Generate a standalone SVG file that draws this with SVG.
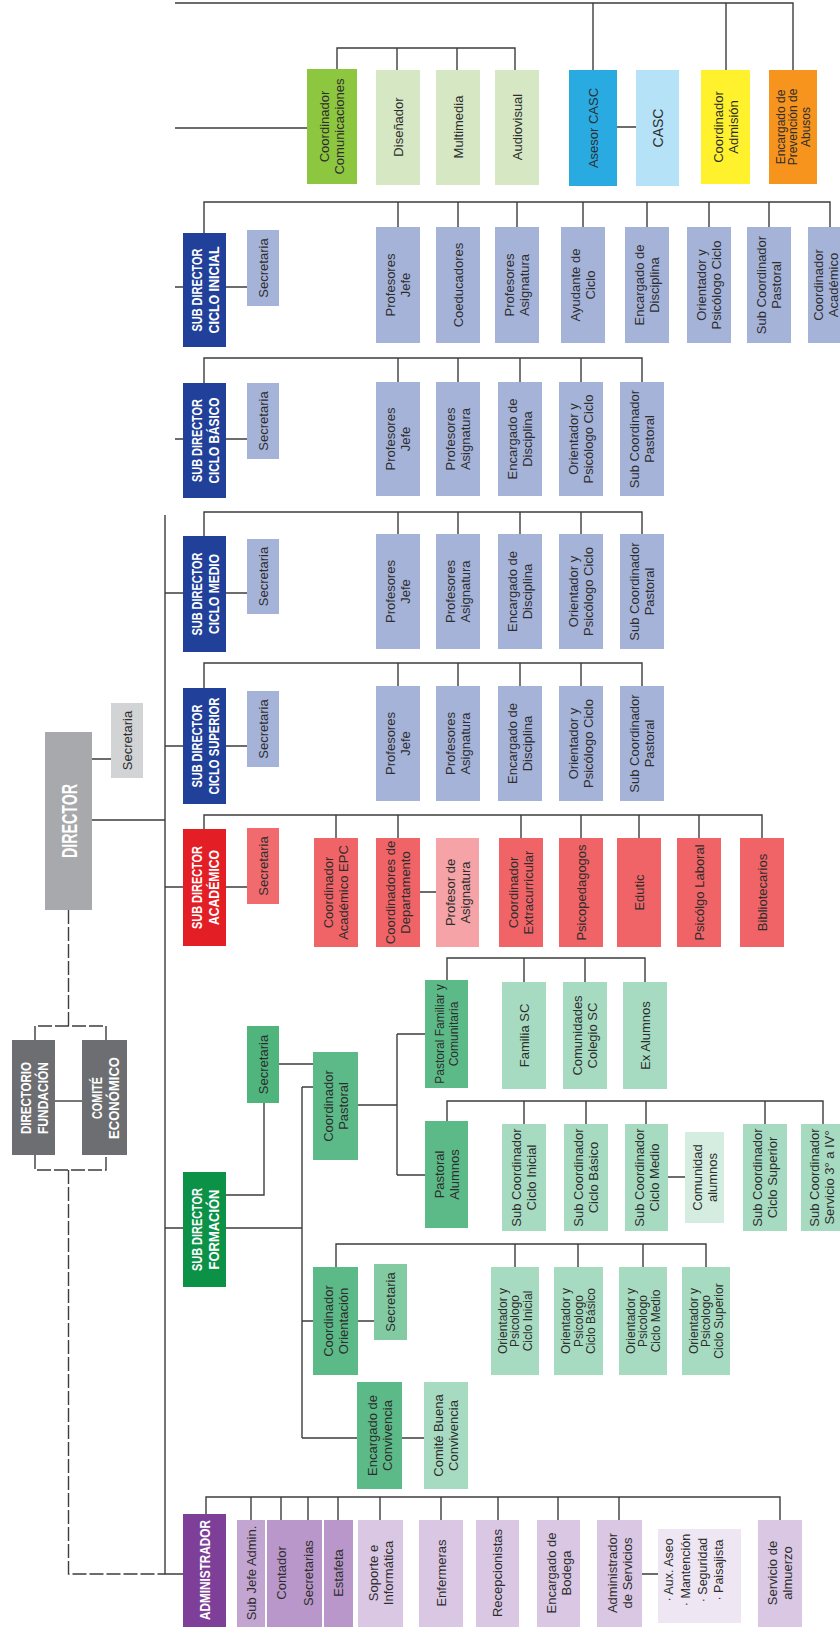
<svg xmlns="http://www.w3.org/2000/svg" width="840" height="1627" viewBox="0 0 840 1627">
<style>
.l{fill:none;stroke:#3d3d3d;stroke-width:1.4}
.d{fill:none;stroke:#3d3d3d;stroke-width:1.4;stroke-dasharray:14 3}
text{font-family:"Liberation Sans",Arial,sans-serif;text-anchor:middle;fill:#2d2d2d}
.t{font-size:13px}
.s{font-size:12px}
.h{font-size:15px;font-weight:bold;fill:#fff}
.bl{fill:#21409a}.pw{fill:#a6b3d9}
.rd{fill:#e31e25}.rs{fill:#f06467}.rp{fill:#f5a3a7}
.gd{fill:#0b9247}.gm{fill:#5cba88}.gl{fill:#a7dbc1}.gx{fill:#d4ede0}
.pu{fill:#7d3f98}.p1{fill:#c3a5d2}.p2{fill:#b997ca}.p3{fill:#d9c7e3}.p4{fill:#efe6f4}
.gy{fill:#a7a9ac}.gy2{fill:#d1d3d4}.gy3{fill:#6d6e71}
.cg{fill:#8dc63f}.cl{fill:#d6e7c4}
</style>
<rect width="840" height="1627" fill="#fff"/>
<g id="connectors">
<path class="l" d="M175,3 H793 V70 M593,3 V70 M726,3 V70 M617,127 H636 M175,128 H307 M337,69 V48 H515 V70 M397,48 V70 M457,48 V70"/>
<path class="l" d="M175,287 H183 M226,287 H247 M204,233 V202 H830 V227 M398,202 V227 M458,202 V227 M517,202 V227 M583,202 V227 M647,202 V227 M709,202 V227 M769,202 V227"/>
<path class="l" d="M175,439 H183 M226,439 H247 M204,383 V358 H642 V382 M398,358 V382 M458,358 V382 M520,358 V382 M581,358 V382"/>
<path class="l" d="M165,515 V1574 H183 M165,593 H183 M226,593 H247 M204,536 V512 H642 V534 M398,512 V534 M458,512 V534 M520,512 V534 M581,512 V534"/>
<path class="l" d="M165,746 H183 M226,746 H247 M204,688 V663 H642 V686 M398,663 V686 M458,663 V686 M520,663 V686 M581,663 V686"/>
<path class="l" d="M92,820 H165 M92,759 H111"/>
<path class="l" d="M165,887 H183 M226,887 H247 M204,829 V815 H762 V838 M336,815 V838 M398,815 V838 M521,815 V838 M581,815 V838 M639,815 V838 M699,815 V838 M420,892 H436"/>
<path class="l" d="M165,1228 H183 M226,1228 H302 M226,1195 H264 V1103 M302,1087 V1438 M302,1087 H313 M279,1064 H313 M358,1105 H397 M397,1034 V1175 M397,1034 H425 M397,1175 H425"/>
<path class="l" d="M447,980 V958 H645 V982 M524,958 V982 M585,958 V982"/>
<path class="l" d="M447,1121 V1101 H823 V1124 M524,1101 V1124 M586,1101 V1124 M646,1101 V1124 M765,1101 V1124 M668,1177 H685"/>
<path class="l" d="M302,1321 H313 M358,1321 H374 M336,1267 V1244 H706 V1267 M515,1244 V1267 M578,1244 V1267 M643,1244 V1267 M302,1438 H357 M402,1438 H424"/>
<path class="l" d="M206,1514 V1497 H780 V1520 M251,1497 V1520 M281,1497 V1520 M308,1497 V1520 M338,1497 V1520 M380,1497 V1520 M441,1497 V1520 M498,1497 V1520 M558,1497 V1520 M619,1497 V1520 M642,1574 H658"/>
<path class="d" d="M68.5,910 V1026 M35,1040 V1026 H106 V1040 M35,1155 V1170 H106 V1155 M68.5,1170 V1574 H165"/>
<path class="l" d="M55,1101 H82"/>
</g>

<g id="n-coord-com"><rect class="cg" x="307" y="69" width="50" height="115"/><text class="t" transform="translate(332,126.5) rotate(-90)"><tspan x="0" y="-3">Coordinador</tspan><tspan x="0" y="12">Comunicaciones</tspan></text></g>
<g id="n-disenador"><rect class="cl" x="376" y="70" width="44" height="115"/><text class="t" transform="translate(398,127) rotate(-90)"><tspan x="0" y="4.5">Diseñador</tspan></text></g>
<g id="n-multimedia"><rect class="cl" x="436" y="70" width="44" height="115"/><text class="t" transform="translate(458,127) rotate(-90)"><tspan x="0" y="4.5">Multimedia</tspan></text></g>
<g id="n-audiovisual"><rect class="cl" x="495" y="70" width="44" height="115"/><text class="t" transform="translate(517,127) rotate(-90)"><tspan x="0" y="4.5">Audiovisual</tspan></text></g>
<g id="n-asesor-casc"><rect fill="#29abe2" x="569" y="70" width="48" height="116"/><text class="t" transform="translate(593,128) rotate(-90)"><tspan x="0" y="4.5">Asesor CASC</tspan></text></g>
<g id="n-casc"><rect fill="#b5e2f7" x="636" y="70" width="43" height="116"/><text class="t" transform="translate(657.5,128) rotate(-90)" style="font-size:14px"><tspan x="0" y="5">CASC</tspan></text></g>
<g id="n-admision"><rect fill="#fff22d" x="701" y="70" width="49" height="114"/><text class="t" transform="translate(725.5,127) rotate(-90)"><tspan x="0" y="-3">Coordinador</tspan><tspan x="0" y="12">Admisión</tspan></text></g>
<g id="n-prevencion"><rect fill="#f7941d" x="769" y="70" width="48" height="114"/><text class="s" transform="translate(793,127) rotate(-90)"><tspan x="0" y="-8.3">Encargado de</tspan><tspan x="0" y="4.2">Prevención de</tspan><tspan x="0" y="16.7">Abusos</tspan></text></g>

<g id="n-sd-inicial"><rect class="bl" x="183" y="233" width="43" height="114"/><text class="h" transform="translate(204.5,290) rotate(-90)" x="0" y="-3" textLength="83" lengthAdjust="spacingAndGlyphs">SUB DIRECTOR</text><text class="h" transform="translate(204.5,290) rotate(-90)" x="0" y="14" textLength="87" lengthAdjust="spacingAndGlyphs">CICLO INICIAL</text></g>
<g id="n-sec-inicial"><rect class="pw" x="247" y="230" width="32" height="76"/><text class="t" transform="translate(263,268) rotate(-90)"><tspan x="0" y="4.5">Secretaria</tspan></text></g>
<g id="n-ini-pj"><rect class="pw" x="376" y="227" width="44" height="116"/><text class="t" transform="translate(398,285) rotate(-90)"><tspan x="0" y="-3">Profesores</tspan><tspan x="0" y="12">Jefe</tspan></text></g>
<g id="n-ini-coed"><rect class="pw" x="436" y="227" width="44" height="116"/><text class="t" transform="translate(458,285) rotate(-90)"><tspan x="0" y="4.5">Coeducadores</tspan></text></g>
<g id="n-ini-pa"><rect class="pw" x="495" y="227" width="44" height="116"/><text class="t" transform="translate(517,285) rotate(-90)"><tspan x="0" y="-3">Profesores</tspan><tspan x="0" y="12">Asignatura</tspan></text></g>
<g id="n-ini-ayu"><rect class="pw" x="561" y="227" width="44" height="116"/><text class="t" transform="translate(583,285) rotate(-90)"><tspan x="0" y="-3">Ayudante de</tspan><tspan x="0" y="12">Ciclo</tspan></text></g>
<g id="n-ini-enc"><rect class="pw" x="625" y="227" width="44" height="116"/><text class="t" transform="translate(647,285) rotate(-90)"><tspan x="0" y="-3">Encargado de</tspan><tspan x="0" y="12">Disciplina</tspan></text></g>
<g id="n-ini-ori"><rect class="pw" x="687" y="227" width="44" height="116"/><text class="t" transform="translate(709,285) rotate(-90)"><tspan x="0" y="-3">Orientador y</tspan><tspan x="0" y="12">Psicólogo Ciclo</tspan></text></g>
<g id="n-ini-sub"><rect class="pw" x="747" y="227" width="44" height="116"/><text class="t" transform="translate(769,285) rotate(-90)"><tspan x="0" y="-3">Sub Coordinador</tspan><tspan x="0" y="12">Pastoral</tspan></text></g>
<g id="n-ini-ca"><rect class="pw" x="808" y="227" width="44" height="116"/><text class="t" transform="translate(826,285) rotate(-90)"><tspan x="0" y="-3">Coordinador</tspan><tspan x="0" y="11.5">Académico</tspan></text></g>

<g id="n-sd-basico"><rect class="bl" x="183" y="383" width="43" height="115"/><text class="h" transform="translate(204.5,440.5) rotate(-90)" x="0" y="-3" textLength="83" lengthAdjust="spacingAndGlyphs">SUB DIRECTOR</text><text class="h" transform="translate(204.5,440.5) rotate(-90)" x="0" y="14" textLength="86" lengthAdjust="spacingAndGlyphs">CICLO BÁSICO</text></g>
<g id="n-sec-basico"><rect class="pw" x="247" y="383" width="32" height="76"/><text class="t" transform="translate(263,421) rotate(-90)"><tspan x="0" y="4.5">Secretaria</tspan></text></g>
<g id="n-bas-pj"><rect class="pw" x="376" y="382" width="44" height="114"/><text class="t" transform="translate(398,439) rotate(-90)"><tspan x="0" y="-3">Profesores</tspan><tspan x="0" y="12">Jefe</tspan></text></g>
<g id="n-bas-pa"><rect class="pw" x="436" y="382" width="44" height="114"/><text class="t" transform="translate(458,439) rotate(-90)"><tspan x="0" y="-3">Profesores</tspan><tspan x="0" y="12">Asignatura</tspan></text></g>
<g id="n-bas-enc"><rect class="pw" x="498" y="382" width="44" height="114"/><text class="t" transform="translate(520,439) rotate(-90)"><tspan x="0" y="-3">Encargado de</tspan><tspan x="0" y="12">Disciplina</tspan></text></g>
<g id="n-bas-ori"><rect class="pw" x="559" y="382" width="44" height="114"/><text class="t" transform="translate(581,439) rotate(-90)"><tspan x="0" y="-3">Orientador y</tspan><tspan x="0" y="12">Psicólogo Ciclo</tspan></text></g>
<g id="n-bas-sub"><rect class="pw" x="620" y="382" width="44" height="114"/><text class="t" transform="translate(642,439) rotate(-90)"><tspan x="0" y="-3">Sub Coordinador</tspan><tspan x="0" y="12">Pastoral</tspan></text></g>

<g id="n-sd-medio"><rect class="bl" x="183" y="536" width="43" height="116"/><text class="h" transform="translate(204.5,594) rotate(-90)" x="0" y="-3" textLength="83" lengthAdjust="spacingAndGlyphs">SUB DIRECTOR</text><text class="h" transform="translate(204.5,594) rotate(-90)" x="0" y="14" textLength="80" lengthAdjust="spacingAndGlyphs">CICLO MEDIO</text></g>
<g id="n-sec-medio"><rect class="pw" x="247" y="539" width="32" height="75"/><text class="t" transform="translate(263,576.5) rotate(-90)"><tspan x="0" y="4.5">Secretaria</tspan></text></g>
<g id="n-med-pj"><rect class="pw" x="376" y="534" width="44" height="115"/><text class="t" transform="translate(398,591.5) rotate(-90)"><tspan x="0" y="-3">Profesores</tspan><tspan x="0" y="12">Jefe</tspan></text></g>
<g id="n-med-pa"><rect class="pw" x="436" y="534" width="44" height="115"/><text class="t" transform="translate(458,591.5) rotate(-90)"><tspan x="0" y="-3">Profesores</tspan><tspan x="0" y="12">Asignatura</tspan></text></g>
<g id="n-med-enc"><rect class="pw" x="498" y="534" width="44" height="115"/><text class="t" transform="translate(520,591.5) rotate(-90)"><tspan x="0" y="-3">Encargado de</tspan><tspan x="0" y="12">Disciplina</tspan></text></g>
<g id="n-med-ori"><rect class="pw" x="559" y="534" width="44" height="115"/><text class="t" transform="translate(581,591.5) rotate(-90)"><tspan x="0" y="-3">Orientador y</tspan><tspan x="0" y="12">Psicólogo Ciclo</tspan></text></g>
<g id="n-med-sub"><rect class="pw" x="620" y="534" width="44" height="115"/><text class="t" transform="translate(642,591.5) rotate(-90)"><tspan x="0" y="-3">Sub Coordinador</tspan><tspan x="0" y="12">Pastoral</tspan></text></g>

<g id="n-sd-superior"><rect class="bl" x="183" y="688" width="43" height="116"/><text class="h" transform="translate(204.5,746) rotate(-90)" x="0" y="-3" textLength="83" lengthAdjust="spacingAndGlyphs">SUB DIRECTOR</text><text class="h" transform="translate(204.5,746) rotate(-90)" x="0" y="14" textLength="97" lengthAdjust="spacingAndGlyphs">CICLO SUPERIOR</text></g>
<g id="n-sec-superior"><rect class="pw" x="247" y="691" width="32" height="76"/><text class="t" transform="translate(263,729) rotate(-90)"><tspan x="0" y="4.5">Secretaria</tspan></text></g>
<g id="n-sup-pj"><rect class="pw" x="376" y="686" width="44" height="115"/><text class="t" transform="translate(398,743.5) rotate(-90)"><tspan x="0" y="-3">Profesores</tspan><tspan x="0" y="12">Jefe</tspan></text></g>
<g id="n-sup-pa"><rect class="pw" x="436" y="686" width="44" height="115"/><text class="t" transform="translate(458,743.5) rotate(-90)"><tspan x="0" y="-3">Profesores</tspan><tspan x="0" y="12">Asignatura</tspan></text></g>
<g id="n-sup-enc"><rect class="pw" x="498" y="686" width="44" height="115"/><text class="t" transform="translate(520,743.5) rotate(-90)"><tspan x="0" y="-3">Encargado de</tspan><tspan x="0" y="12">Disciplina</tspan></text></g>
<g id="n-sup-ori"><rect class="pw" x="559" y="686" width="44" height="115"/><text class="t" transform="translate(581,743.5) rotate(-90)"><tspan x="0" y="-3">Orientador y</tspan><tspan x="0" y="12">Psicólogo Ciclo</tspan></text></g>
<g id="n-sup-sub"><rect class="pw" x="620" y="686" width="44" height="115"/><text class="t" transform="translate(642,743.5) rotate(-90)"><tspan x="0" y="-3">Sub Coordinador</tspan><tspan x="0" y="12">Pastoral</tspan></text></g>

<g id="n-director"><rect class="gy" x="45" y="732" width="47" height="178"/><text transform="translate(68.5,821) rotate(-90)" x="0" y="8" style="font-size:22px;font-weight:bold;fill:#fff" textLength="74" lengthAdjust="spacingAndGlyphs">DIRECTOR</text></g>
<g id="n-sec-director"><rect class="gy2" x="111" y="703" width="32" height="75"/><text class="t" transform="translate(127,740.5) rotate(-90)"><tspan x="0" y="4.5">Secretaria</tspan></text></g>

<g id="n-sd-academico"><rect class="rd" x="183" y="829" width="43" height="117"/><text class="h" transform="translate(204.5,887.5) rotate(-90)" x="0" y="-3" textLength="83" lengthAdjust="spacingAndGlyphs">SUB DIRECTOR</text><text class="h" transform="translate(204.5,887.5) rotate(-90)" x="0" y="14" textLength="75" lengthAdjust="spacingAndGlyphs">ACADÉMICO</text></g>
<g id="n-sec-academico"><rect fill="#f16b6e" x="247" y="828" width="32" height="76"/><text class="t" transform="translate(263,866) rotate(-90)"><tspan x="0" y="4.5">Secretaria</tspan></text></g>
<g id="n-aca-epc"><rect class="rs" x="314" y="838" width="44" height="109"/><text class="t" transform="translate(336,892.5) rotate(-90)"><tspan x="0" y="-3">Coordinador</tspan><tspan x="0" y="12">Académico EPC</tspan></text></g>
<g id="n-aca-depto"><rect class="rs" x="376" y="838" width="44" height="109"/><text class="t" transform="translate(398,892.5) rotate(-90)"><tspan x="0" y="-3">Coordinadores de</tspan><tspan x="0" y="12">Departamento</tspan></text></g>
<g id="n-aca-prof"><rect class="rp" x="436" y="838" width="43" height="109"/><text class="t" transform="translate(457.5,892.5) rotate(-90)"><tspan x="0" y="-3">Profesor de</tspan><tspan x="0" y="12">Asignatura</tspan></text></g>
<g id="n-aca-extra"><rect class="rs" x="499" y="838" width="44" height="109"/><text class="t" transform="translate(521,892.5) rotate(-90)"><tspan x="0" y="-3">Coordinador</tspan><tspan x="0" y="12">Extracurricular</tspan></text></g>
<g id="n-aca-psico"><rect class="rs" x="559" y="838" width="44" height="109"/><text class="t" transform="translate(581,892.5) rotate(-90)"><tspan x="0" y="4.5">Psicopedagogos</tspan></text></g>
<g id="n-aca-edutic"><rect class="rs" x="617" y="838" width="44" height="109"/><text class="t" transform="translate(639,892.5) rotate(-90)"><tspan x="0" y="4.5">Edutic</tspan></text></g>
<g id="n-aca-laboral"><rect class="rs" x="677" y="838" width="44" height="109"/><text class="t" transform="translate(699,892.5) rotate(-90)"><tspan x="0" y="4.5">Psicólgo Laboral</tspan></text></g>
<g id="n-aca-biblio"><rect class="rs" x="740" y="838" width="44" height="109"/><text class="t" transform="translate(762,892.5) rotate(-90)"><tspan x="0" y="4.5">Bibliotecarios</tspan></text></g>

<g id="n-directorio"><rect class="gy3" x="12" y="1040" width="43" height="115"/><text class="h" transform="translate(33.5,1098) rotate(-90)" x="0" y="-3" textLength="72" lengthAdjust="spacingAndGlyphs">DIRECTORIO</text><text class="h" transform="translate(33.5,1098) rotate(-90)" x="0" y="14" textLength="72" lengthAdjust="spacingAndGlyphs">FUNDACIÓN</text></g>
<g id="n-comite-eco"><rect class="gy3" x="82" y="1040" width="45" height="115"/><text class="h" transform="translate(104.5,1098) rotate(-90)" x="0" y="-3" textLength="42" lengthAdjust="spacingAndGlyphs">COMITÉ</text><text class="h" transform="translate(104.5,1098) rotate(-90)" x="0" y="14" textLength="82" lengthAdjust="spacingAndGlyphs">ECONÓMICO</text></g>

<g id="n-sd-formacion"><rect class="gd" x="183" y="1172" width="43" height="115"/><text class="h" transform="translate(204.5,1229.5) rotate(-90)" x="0" y="-3" textLength="83" lengthAdjust="spacingAndGlyphs">SUB DIRECTOR</text><text class="h" transform="translate(204.5,1229.5) rotate(-90)" x="0" y="14" textLength="80" lengthAdjust="spacingAndGlyphs">FORMACIÓN</text></g>
<g id="n-sec-formacion"><rect fill="#4fb57d" x="247" y="1026" width="32" height="77"/><text class="t" transform="translate(263,1064.5) rotate(-90)"><tspan x="0" y="4.5">Secretaria</tspan></text></g>
<g id="n-coord-pastoral"><rect class="gm" x="313" y="1052" width="45" height="108"/><text class="t" transform="translate(335.5,1106) rotate(-90)"><tspan x="0" y="-3">Coordinador</tspan><tspan x="0" y="12">Pastoral</tspan></text></g>
<g id="n-past-familiar"><rect class="gm" x="425" y="980" width="43" height="108"/><text class="s" transform="translate(446.5,1034) rotate(-90)"><tspan x="0" y="-2.8">Pastoral Familiar y</tspan><tspan x="0" y="11.2">Comunitaria</tspan></text></g>
<g id="n-familia"><rect class="gl" x="502" y="982" width="44" height="107"/><text class="t" transform="translate(524,1035.5) rotate(-90)"><tspan x="0" y="4.5">Familia SC</tspan></text></g>
<g id="n-comunidades"><rect class="gl" x="563" y="982" width="44" height="107"/><text class="t" transform="translate(585,1035.5) rotate(-90)"><tspan x="0" y="-3">Comunidades</tspan><tspan x="0" y="12">Colegio SC</tspan></text></g>
<g id="n-exalumnos"><rect class="gl" x="623" y="982" width="44" height="107"/><text class="t" transform="translate(645,1035.5) rotate(-90)"><tspan x="0" y="4.5">Ex Alumnos</tspan></text></g>
<g id="n-past-alumnos"><rect class="gm" x="425" y="1121" width="43" height="107"/><text class="t" transform="translate(446.5,1174.5) rotate(-90)"><tspan x="0" y="-3">Pastoral</tspan><tspan x="0" y="12">Alumnos</tspan></text></g>
<g id="n-sc-inicial"><rect class="gl" x="502" y="1124" width="44" height="107"/><text class="t" transform="translate(524,1177.5) rotate(-90)"><tspan x="0" y="-3">Sub Coordinador</tspan><tspan x="0" y="12">Ciclo Inicial</tspan></text></g>
<g id="n-sc-basico"><rect class="gl" x="564" y="1124" width="44" height="107"/><text class="t" transform="translate(586,1177.5) rotate(-90)"><tspan x="0" y="-3">Sub Coordinador</tspan><tspan x="0" y="12">Ciclo Básico</tspan></text></g>
<g id="n-sc-medio"><rect class="gl" x="625" y="1124" width="43" height="107"/><text class="t" transform="translate(646.5,1177.5) rotate(-90)"><tspan x="0" y="-3">Sub Coordinador</tspan><tspan x="0" y="12">Ciclo Medio</tspan></text></g>
<g id="n-comunidad-alumnos"><rect class="gx" x="685" y="1132" width="39" height="91"/><text class="t" transform="translate(704.5,1177.5) rotate(-90)"><tspan x="0" y="-3">Comunidad</tspan><tspan x="0" y="12">alumnos</tspan></text></g>
<g id="n-sc-superior"><rect class="gl" x="743" y="1124" width="44" height="107"/><text class="t" transform="translate(765,1177.5) rotate(-90)"><tspan x="0" y="-3">Sub Coordinador</tspan><tspan x="0" y="12">Ciclo Superior</tspan></text></g>
<g id="n-sc-servicio"><rect class="gl" x="801" y="1124" width="44" height="107"/><text class="t" transform="translate(822,1177.5) rotate(-90)"><tspan x="0" y="-3">Sub Coordinador</tspan><tspan x="0" y="12">Servicio 3° a IV°</tspan></text></g>

<g id="n-coord-orientacion"><rect class="gm" x="313" y="1267" width="45" height="108"/><text class="t" transform="translate(335.5,1321) rotate(-90)"><tspan x="0" y="-3">Coordinador</tspan><tspan x="0" y="12">Orientación</tspan></text></g>
<g id="n-sec-orientacion"><rect fill="#82cba2" x="374" y="1264" width="33" height="76"/><text class="t" transform="translate(390.5,1302) rotate(-90)"><tspan x="0" y="4.5">Secretaria</tspan></text></g>
<g id="n-op-inicial"><rect class="gl" x="491" y="1267" width="48" height="108"/><text class="s" transform="translate(515,1321) rotate(-90)"><tspan x="0" y="-8.3">Orientador y</tspan><tspan x="0" y="4.2">Psicologo</tspan><tspan x="0" y="16.7">Ciclo Inicial</tspan></text></g>
<g id="n-op-basico"><rect class="gl" x="554" y="1267" width="49" height="108"/><text class="s" transform="translate(578.5,1321) rotate(-90)"><tspan x="0" y="-8.3">Orientador y</tspan><tspan x="0" y="4.2">Psicologo</tspan><tspan x="0" y="16.7">Ciclo Básico</tspan></text></g>
<g id="n-op-medio"><rect class="gl" x="619" y="1267" width="48" height="108"/><text class="s" transform="translate(643,1321) rotate(-90)"><tspan x="0" y="-8.3">Orientador y</tspan><tspan x="0" y="4.2">Psicologo</tspan><tspan x="0" y="16.7">Ciclo Medio</tspan></text></g>
<g id="n-op-superior"><rect class="gl" x="682" y="1267" width="48" height="108"/><text class="s" transform="translate(706,1321) rotate(-90)"><tspan x="0" y="-8.3">Orientador y</tspan><tspan x="0" y="4.2">Psicologo</tspan><tspan x="0" y="16.7">Ciclo Superior</tspan></text></g>
<g id="n-enc-convivencia"><rect class="gm" x="357" y="1382" width="45" height="107"/><text class="t" transform="translate(379.5,1435.5) rotate(-90)"><tspan x="0" y="-3">Encargado de</tspan><tspan x="0" y="12">Convivencia</tspan></text></g>
<g id="n-comite-convivencia"><rect class="gl" x="424" y="1382" width="44" height="107"/><text class="t" transform="translate(446,1435.5) rotate(-90)"><tspan x="0" y="-3">Comité Buena</tspan><tspan x="0" y="12">Convivencia</tspan></text></g>

<g id="n-administrador"><rect class="pu" x="183" y="1514" width="43" height="113"/><text class="h" transform="translate(204.5,1570) rotate(-90)" x="0" y="5.4" textLength="100" lengthAdjust="spacingAndGlyphs">ADMINISTRADOR</text></g>
<g id="n-subjefe"><rect class="p1" x="237" y="1520" width="28" height="107"/><text class="t" transform="translate(251,1573) rotate(-90)"><tspan x="0" y="4.5">Sub Jefe Admin.</tspan></text></g>
<g id="n-contador"><rect class="p2" x="267" y="1520" width="28" height="107"/><text class="t" transform="translate(281,1573) rotate(-90)"><tspan x="0" y="4.5">Contador</tspan></text></g>
<g id="n-secretarias"><rect class="p2" x="295" y="1520" width="27" height="107"/><text class="t" transform="translate(308.5,1573) rotate(-90)"><tspan x="0" y="4.5">Secretarias</tspan></text></g>
<g id="n-estafeta"><rect class="p2" x="324" y="1520" width="29" height="107"/><text class="t" transform="translate(338.5,1573) rotate(-90)"><tspan x="0" y="4.5">Estafeta</tspan></text></g>
<g id="n-soporte"><rect class="p3" x="358" y="1520" width="45" height="107"/><text class="t" transform="translate(380.5,1573) rotate(-90)"><tspan x="0" y="-3">Soporte e</tspan><tspan x="0" y="12">Informática</tspan></text></g>
<g id="n-enfermeras"><rect class="p3" x="419" y="1520" width="44" height="107"/><text class="t" transform="translate(441,1573) rotate(-90)"><tspan x="0" y="4.5">Enfermeras</tspan></text></g>
<g id="n-recepcionistas"><rect class="p3" x="476" y="1520" width="43" height="107"/><text class="t" transform="translate(497.5,1573) rotate(-90)"><tspan x="0" y="4.5">Recepcionistas</tspan></text></g>
<g id="n-bodega"><rect class="p3" x="537" y="1520" width="43" height="107"/><text class="t" transform="translate(558.5,1573) rotate(-90)"><tspan x="0" y="-3">Encargado de</tspan><tspan x="0" y="12">Bodega</tspan></text></g>
<g id="n-adm-servicios"><rect class="p3" x="597" y="1520" width="45" height="107"/><text class="t" transform="translate(619.5,1573) rotate(-90)"><tspan x="0" y="-3">Administrador</tspan><tspan x="0" y="12">de Servicios</tspan></text></g>
<g id="n-aux"><rect class="p4" x="658" y="1529" width="83" height="94"/><text transform="translate(699.5,1570) rotate(-90)" style="font-size:12.5px"><tspan x="0" y="-27">· Aux. Aseo</tspan><tspan x="0" y="-10">· Mantención</tspan><tspan x="0" y="7">· Seguridad</tspan><tspan x="0" y="23">· Paisajista</tspan></text></g>
<g id="n-almuerzo"><rect class="p3" x="758" y="1520" width="44" height="107"/><text class="t" transform="translate(780,1573) rotate(-90)"><tspan x="0" y="-3">Servicio de</tspan><tspan x="0" y="12">almuerzo</tspan></text></g>
</svg>
